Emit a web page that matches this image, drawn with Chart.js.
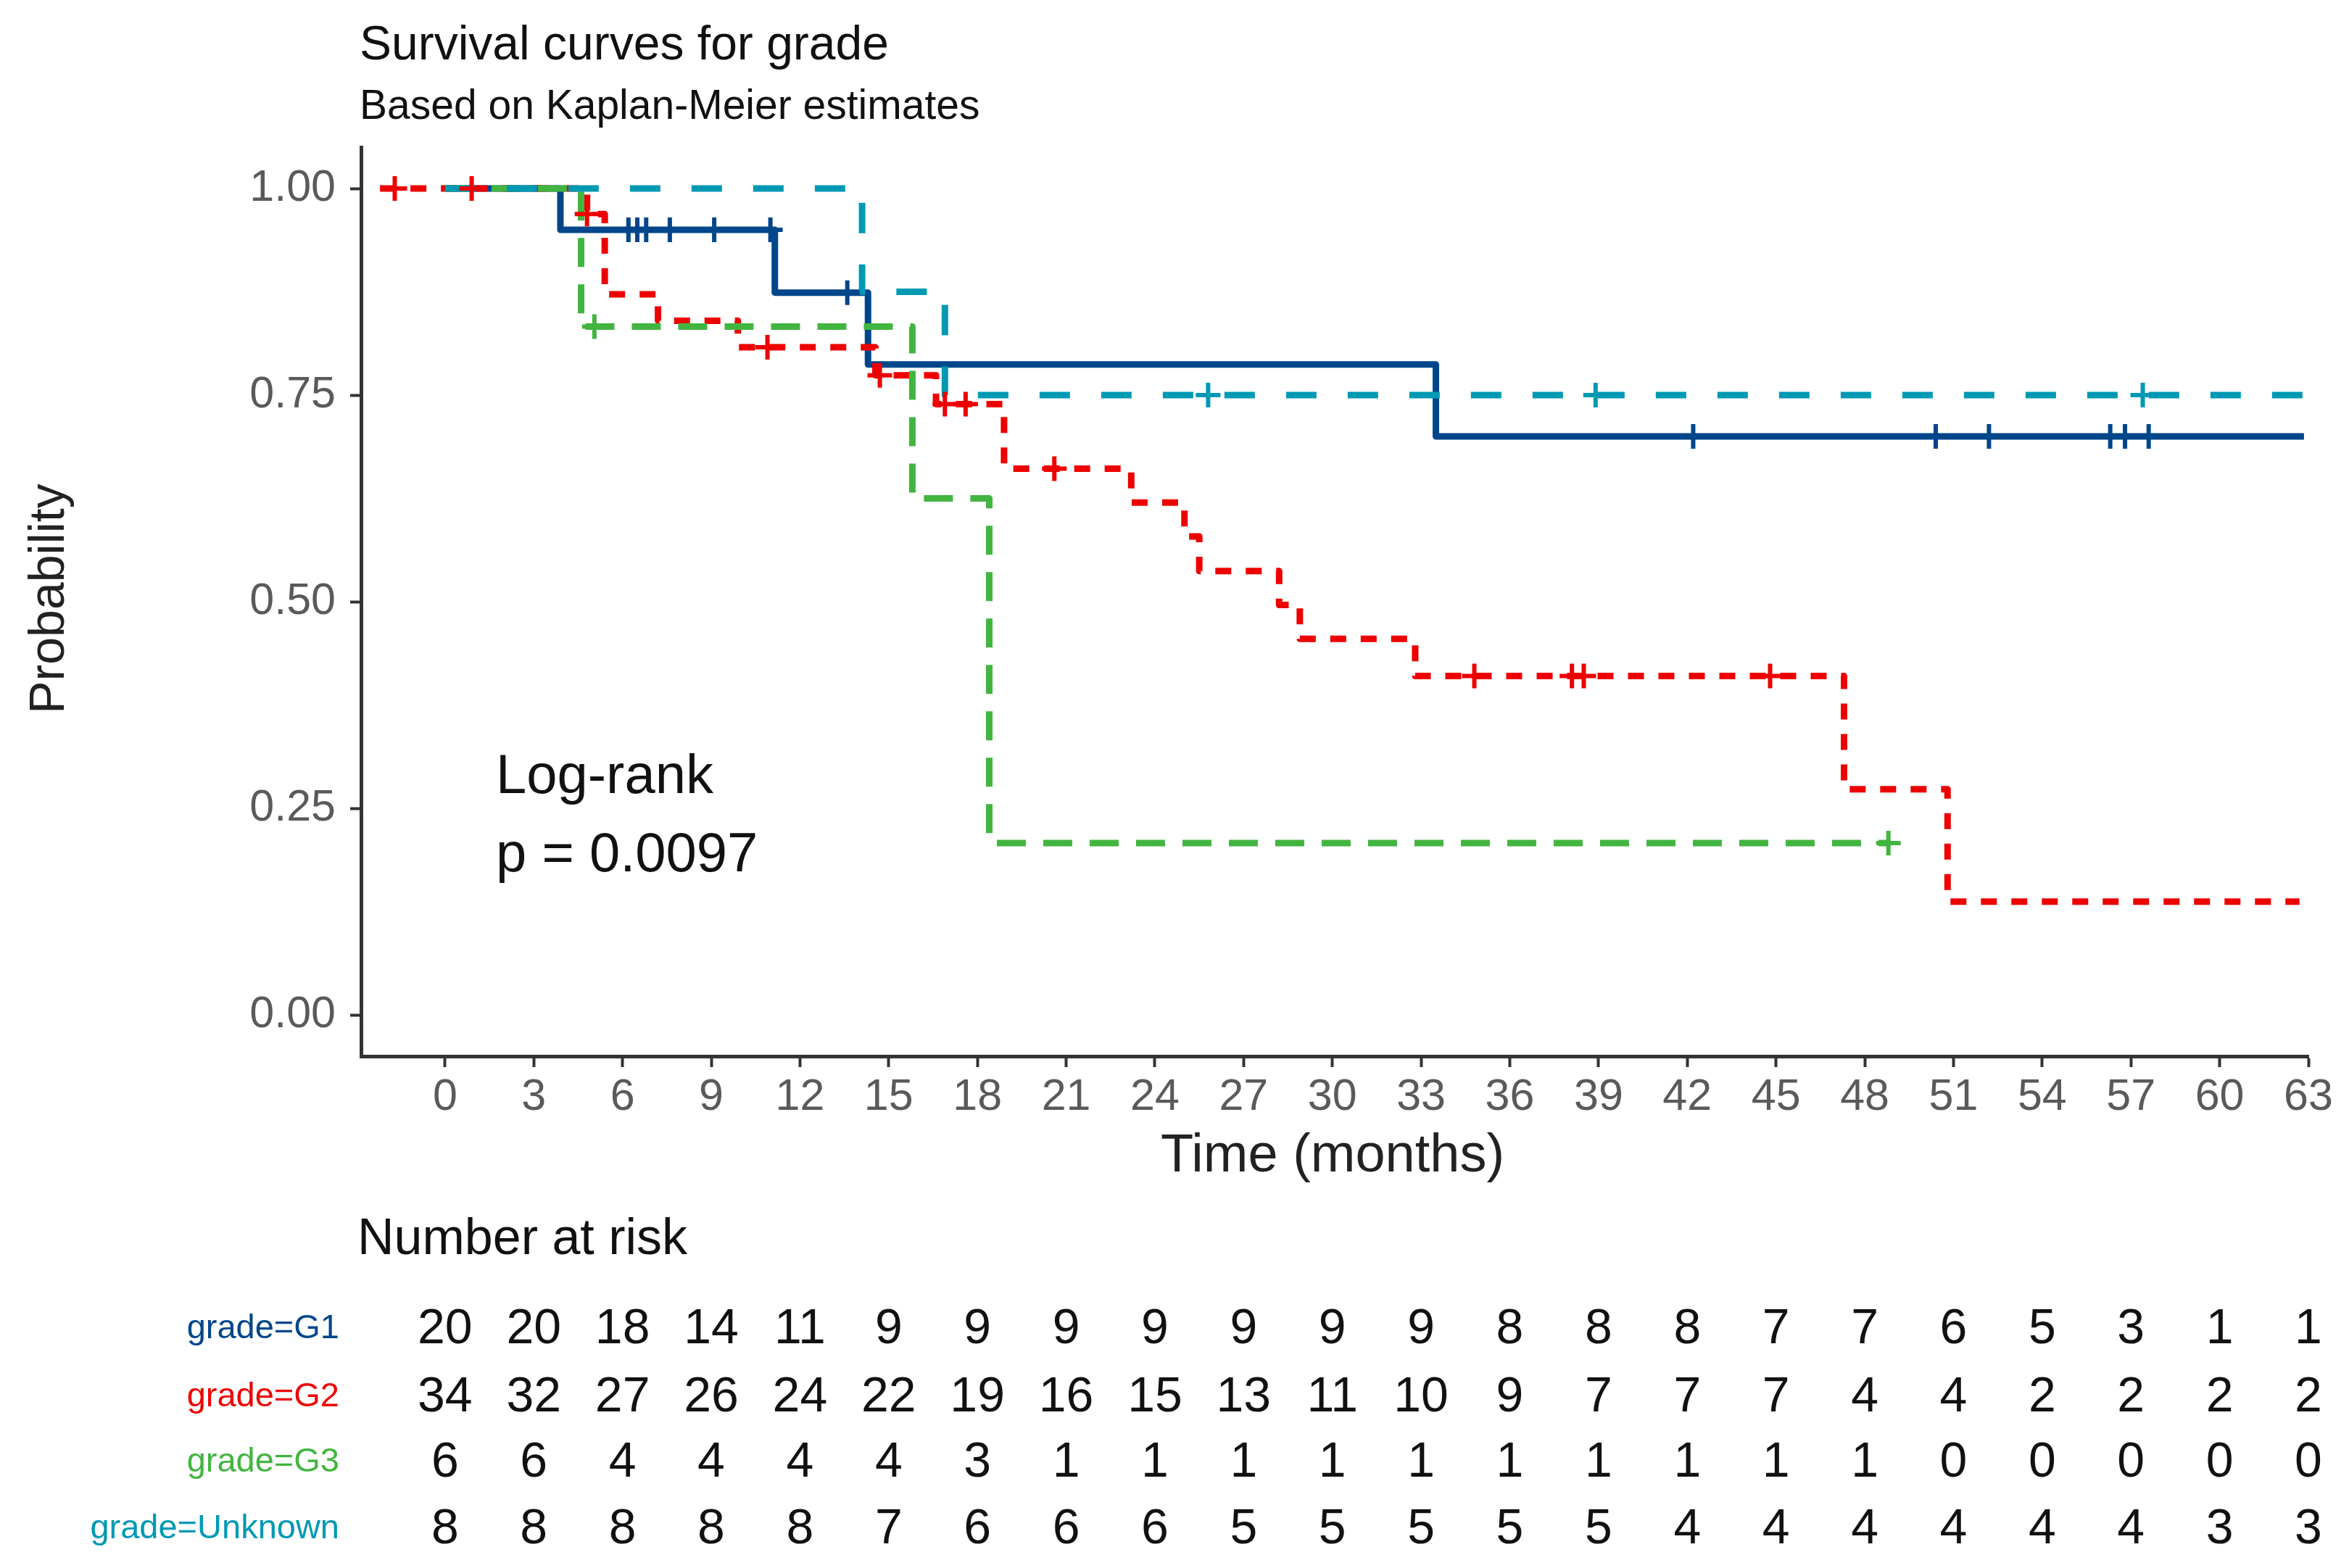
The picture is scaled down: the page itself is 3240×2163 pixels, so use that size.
<!DOCTYPE html>
<html>
<head>
<meta charset="utf-8">
<script src="https://cdn.jsdelivr.net/npm/chart.js@4.4.1/dist/chart.umd.min.js"></script>
<style>
html, body { margin: 0; padding: 0; background: #fff; }
#wrap { width: 3240px; height: 2163px; }
</style>
</head>
<body>
<div id="wrap"><canvas id="km" width="3240" height="2163"></canvas></div>
<script>
var timeTicks = [0, 3, 6, 9, 12, 15, 18, 21, 24, 27, 30, 33, 36, 39, 42, 45, 48, 51, 54, 57, 60, 63];
var probTicks = [0, 0.25, 0.5, 0.75, 1];

var groups = ["grade=G1", "grade=G2", "grade=G3", "grade=Unknown"];
var colors = ["#00468B", "#ED0000", "#42B540", "#0099B4"];

// step curves (time, survival after the step)
var g1Time = [0, 3.9, 11.15, 14.3, 33.5, 62.85];
var g1Surv = [1, 0.95, 0.874, 0.787, 0.70, 0.70];
var g1Censor = [6.2, 6.5, 6.8, 7.6, 9.1, 11.0, 13.6, 42.2, 50.4, 52.2, 56.3, 56.8, 57.6];

var g2Time = [-2.2, 4.8, 5.4, 7.2, 9.9, 14.55, 16.6, 18.9, 23.2, 25.0, 25.5, 28.2, 28.9, 32.8, 47.3, 50.8, 62.7];
var g2Surv = [1, 0.969, 0.872, 0.840, 0.808, 0.774, 0.739, 0.661, 0.620, 0.579, 0.537, 0.496, 0.455, 0.410, 0.273, 0.137, 0.137];
var g2Censor = [-1.7, 0.9, 4.8, 10.9, 14.7, 16.9, 17.6, 20.6, 34.8, 38.1, 38.5, 44.8];

var g3Time = [0, 4.6, 15.8, 18.4, 48.8];
var g3Surv = [1, 0.833, 0.625, 0.208, 0.208];
var g3Censor = [5.05, 48.8];

var unkTime = [0, 14.1, 16.9, 62.85];
var unkSurv = [1, 0.875, 0.75, 0.75];
var unkCensor = [25.8, 38.9, 57.4];

// number at risk at each time tick
var riskG1 = [20, 20, 18, 14, 11, 9, 9, 9, 9, 9, 9, 9, 8, 8, 8, 7, 7, 6, 5, 3, 1, 1];
var riskG2 = [34, 32, 27, 26, 24, 22, 19, 16, 15, 13, 11, 10, 9, 7, 7, 7, 4, 4, 2, 2, 2, 2];
var riskG3 = [6, 6, 4, 4, 4, 4, 3, 1, 1, 1, 1, 1, 1, 1, 1, 1, 1, 0, 0, 0, 0, 0];
var riskUnk = [8, 8, 8, 8, 8, 7, 6, 6, 6, 5, 5, 5, 5, 5, 4, 4, 4, 4, 4, 4, 3, 3];

var FONT = '"Liberation Sans", Arial, sans-serif';

function survAt(times, surv, t) {
	var s = surv[0];
	for (var i = 0; i < times.length; i++) {
		if (times[i] <= t) s = surv[i];
	}
	return s;
}

function stepSet(times, surv, color, dash, order) {
	return {
		data: times.map(function (t, i) { return { x: t, y: surv[i] }; }),
		stepped: 'before',
		borderColor: color,
		borderWidth: 9,
		borderDash: dash,
		borderCapStyle: 'butt',
		borderJoinStyle: 'round',
		pointRadius: 0,
		fill: false,
		order: order
	};
}

function censorSet(times, surv, cens, color) {
	return {
		data: cens.map(function (t) { return { x: t, y: survAt(times, surv, t) }; }),
		showLine: false,
		pointStyle: 'cross',
		pointRadius: 17,
		pointBorderWidth: 6,
		borderColor: color,
		backgroundColor: color,
		order: 0
	};
}

var textPlugin = {
	id: 'kmText',
	afterDraw: function (chart) {
		var ctx = chart.ctx;
		var xs = chart.scales.x;
		ctx.save();
		ctx.fillStyle = '#111';
		ctx.textAlign = 'left';
		ctx.textBaseline = 'alphabetic';
		ctx.font = '66px ' + FONT;
		ctx.fillText('Survival curves for grade', 496, 82);
		ctx.font = '57px ' + FONT;
		ctx.fillText('Based on Kaplan-Meier estimates', 496, 164);

		// axis titles
		ctx.fillStyle = '#222';
		ctx.font = '74px ' + FONT;
		ctx.textAlign = 'center';
		ctx.fillText('Time (months)', 1838, 1616);
		ctx.save();
		ctx.translate(88, 826);
		ctx.rotate(-Math.PI / 2);
		ctx.font = '68px ' + FONT;
		ctx.fillText('Probability', 0, 0);
		ctx.restore();

		// log-rank p
		ctx.fillStyle = '#111';
		ctx.textAlign = 'left';
		ctx.font = '76px ' + FONT;
		ctx.fillText('Log-rank', 684, 1094);
		ctx.fillText('p = 0.0097', 684, 1202);

		// risk table
		ctx.font = '70px ' + FONT;
		ctx.fillText('Number at risk', 493, 1730);
		var rows = [riskG1, riskG2, riskG3, riskUnk];
		var rowY = [1829, 1923, 2013, 2105];
		for (var r = 0; r < rows.length; r++) {
			ctx.textAlign = 'right';
			ctx.fillStyle = colors[r];
			ctx.font = '47px ' + FONT;
			ctx.fillText(groups[r], 468, rowY[r] + 17);
			ctx.textAlign = 'center';
			ctx.fillStyle = '#111';
			ctx.font = '68px ' + FONT;
			for (var k = 0; k < timeTicks.length; k++) {
				ctx.fillText(String(rows[r][k]), xs.getPixelForValue(timeTicks[k]), rowY[r] + 24);
			}
		}
		ctx.restore();
	}
};

var km = new Chart(document.getElementById('km').getContext('2d'), {
	type: 'line',
	data: {
		datasets: [
			stepSet(g1Time, g1Surv, colors[0], [], 4),
			stepSet(g2Time, g2Surv, colors[1], [22, 20], 3),
			stepSet(g3Time, g3Surv, colors[2], [40, 24], 2),
			stepSet(unkTime, unkSurv, colors[3], [42, 43], 1),
			censorSet(g1Time, g1Surv, g1Censor, colors[0]),
			censorSet(g2Time, g2Surv, g2Censor, colors[1]),
			censorSet(g3Time, g3Surv, g3Censor, colors[2]),
			censorSet(unkTime, unkSurv, unkCensor, colors[3])
		]
	},
	options: {
		responsive: false,
		animation: false,
		devicePixelRatio: 1,
		layout: { padding: { left: 0, right: 56, top: 203, bottom: 556 } },
		plugins: {
			legend: { display: false },
			tooltip: { enabled: false },
			title: { display: false }
		},
		scales: {
			x: {
				type: 'linear',
				min: -2.84,
				max: 63,
				afterFit: function (s) { s.height = 150; },
				afterBuildTicks: function (s) { s.ticks = timeTicks.map(function (v) { return { value: v }; }); },
				grid: { drawOnChartArea: false, drawTicks: true, tickLength: 15, tickWidth: 4, tickColor: '#333' },
				border: { display: true, color: '#333', width: 5 },
				ticks: { font: { family: FONT, size: 61 }, color: '#5a5a5a', padding: 6, maxRotation: 0, autoSkip: false }
			},
			y: {
				type: 'linear',
				min: -0.05,
				max: 1.05,
				afterFit: function (s) { s.width = 498; },
				afterBuildTicks: function (s) { s.ticks = probTicks.map(function (v) { return { value: v }; }); },
				grid: { drawOnChartArea: false, drawTicks: true, tickLength: 15, tickWidth: 4, tickColor: '#333' },
				border: { display: true, color: '#333', width: 5 },
				ticks: {
					font: { family: FONT, size: 61 }, color: '#5a5a5a', padding: 20, autoSkip: false,
					callback: function (v) { return Number(v).toFixed(2); }
				}
			}
		}
	},
	plugins: [textPlugin]
});
</script>
</body>
</html>
